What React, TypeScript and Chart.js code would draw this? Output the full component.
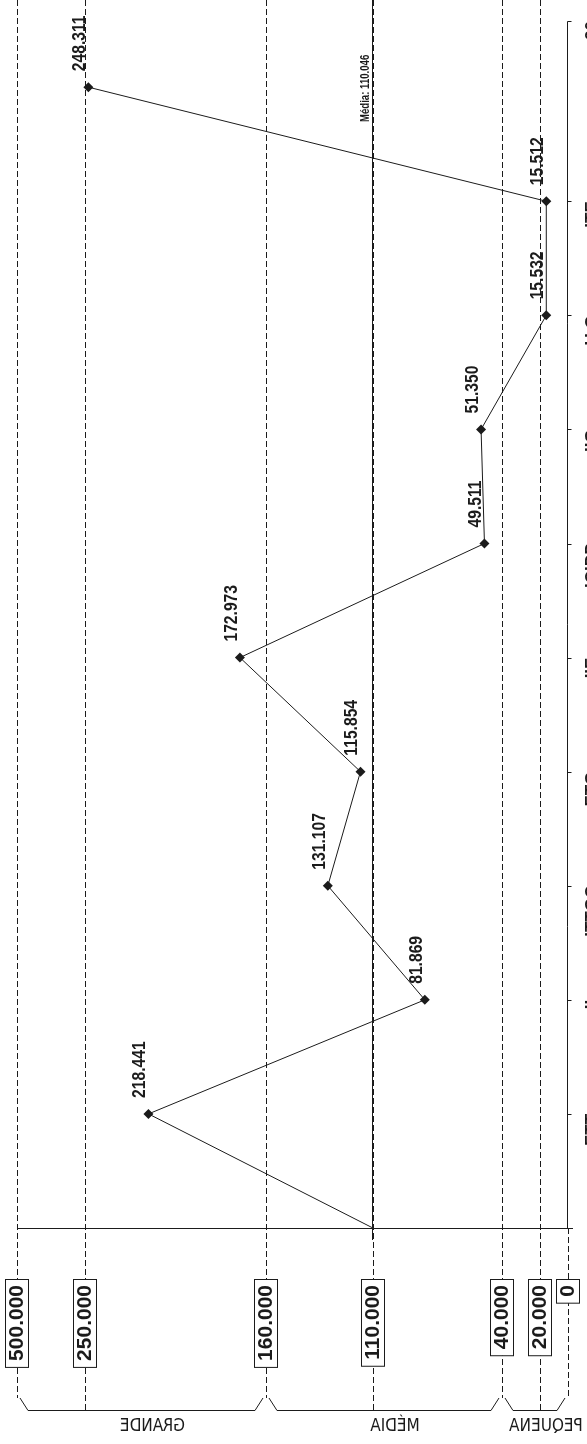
import React, { useEffect, useRef } from 'react';
import { Chart, registerables, LinearScale } from 'chart.js';

// ---------- data ----------
const CATEGORIES = ['', 'ETT', 'II', 'ITTGC', 'ETG', 'IIE', 'ICIPP', 'IIG', 'U.O', 'ITE', '20'];
const VALUES = [110046, 218441, 81869, 131107, 115854, 172973, 49511, 51350, 15532, 15512, 248311];
const MEAN = 110046;
const MEAN_TEXT = 'Média';
const VALUE_TICKS = [0, 20000, 40000, 110000, 160000, 250000, 500000];
const GROUP_NAMES = ['PEQUENA', 'MÉDIA', 'GRANDE'];
const GROUP_FROM = [0, 40000, 160000];
const GROUP_TO = [40000, 160000, 500000];
const GROUP_MID = [20000, 110000, 250000];

// ---------- scale configuration (tick value -> fraction of axis) ----------
const SCALE_FRACTIONS = [0, 0.0508, 0.1198, 0.3539, 0.5481, 0.8766, 1];

const INK = '#1b1b1b';
const SANS = "'Liberation Sans', Arial, Helvetica, sans-serif";
const NARROW = "'Liberation Sans Narrow', 'Arial Narrow', 'DejaVu Sans Condensed', 'Liberation Sans', Arial, sans-serif";

const fmt = (n: number) => String(Math.round(n)).replace(/\B(?=(\d{3})+(?!\d))/g, '.');

class PiecewiseScale extends LinearScale {
  static id = 'piecewise';
  static defaults = LinearScale.defaults;
  toFrac(v: number) {
    const k = VALUE_TICKS;
    const f = SCALE_FRACTIONS;
    if (v <= k[0]) return f[0];
    for (let i = 1; i < k.length; i++) {
      if (v <= k[i]) return f[i - 1] + ((v - k[i - 1]) / (k[i] - k[i - 1])) * (f[i] - f[i - 1]);
    }
    return f[f.length - 1];
  }
  fromFrac(d: number) {
    const k = VALUE_TICKS;
    const f = SCALE_FRACTIONS;
    for (let i = 1; i < f.length; i++) {
      if (d <= f[i]) return k[i - 1] + ((d - f[i - 1]) / (f[i] - f[i - 1])) * (k[i] - k[i - 1]);
    }
    return k[k.length - 1];
  }
  buildTicks() {
    return VALUE_TICKS.map((v) => ({ value: v }));
  }
  getPixelForValue(value: number) {
    return this.getPixelForDecimal(this.toFrac(value));
  }
  getValueForPixel(pixel: number) {
    return this.fromFrac(this.getDecimalForPixel(pixel));
  }
}

Chart.register(...registerables, PiecewiseScale as any);

const overlay = {
  id: 'overlay',
  beforeDatasetsDraw(chart: any) {
    const { ctx, chartArea: ca } = chart;
    const x = chart.scales.x;
    const y = chart.scales.y;
    const bracketY = ca.bottom + 182;
    const endY = ca.bottom + 170;
    ctx.save();
    ctx.strokeStyle = INK;
    ctx.lineWidth = 1;
    // dashed value grid lines
    ctx.setLineDash([6, 3]);
    VALUE_TICKS.forEach((v) => {
      const px = Math.round(x.getPixelForValue(v)) + 0.5;
      const top = v === 0 ? ca.bottom : 0;
      const bottom = GROUP_MID.includes(v) ? bracketY : endY;
      ctx.beginPath();
      ctx.moveTo(px, top);
      ctx.lineTo(px, bottom);
      ctx.stroke();
    });
    ctx.setLineDash([]);
    // value baseline
    ctx.beginPath();
    ctx.moveTo(ca.left, Math.round(ca.bottom) + 0.5);
    ctx.lineTo(ca.right + 5, Math.round(ca.bottom) + 0.5);
    ctx.stroke();
    // category axis
    const ax = Math.round(ca.right) - 0.5;
    ctx.beginPath();
    ctx.moveTo(ax + 4, Math.round(ca.top) + 0.5);
    ctx.lineTo(ax, Math.round(ca.top) + 0.5);
    ctx.lineTo(ax, ca.bottom);
    ctx.stroke();
    for (let i = 1; i < CATEGORIES.length - 1; i++) {
      const py = Math.round(y.getPixelForValue(i)) + 0.5;
      ctx.beginPath();
      ctx.moveTo(ax, py);
      ctx.lineTo(ax + 4, py);
      ctx.stroke();
    }
    // mean line
    const mx = Math.round(x.getPixelForValue(MEAN)) - 0.5;
    ctx.beginPath();
    ctx.moveTo(mx, 0);
    ctx.lineTo(mx, ca.bottom + 12);
    ctx.stroke();
    ctx.restore();
  },
  afterDatasetsDraw(chart: any) {
    const { ctx, chartArea: ca } = chart;
    const x = chart.scales.x;
    const y = chart.scales.y;
    const meta = chart.getDatasetMeta(0);
    ctx.save();
    ctx.fillStyle = INK;
    ctx.strokeStyle = INK;
    ctx.lineWidth = 1;

    // data labels (condensed bold)
    ctx.font = `bold 18px ${SANS}`;
    ctx.textAlign = 'left';
    ctx.textBaseline = 'alphabetic';
    meta.data.forEach((pt: any, i: number) => {
      if (i === 0) return;
      ctx.save();
      ctx.translate(pt.x - 3, pt.y - 16);
      ctx.rotate(-Math.PI / 2);
      ctx.scale(0.87, 1);
      ctx.fillText(fmt(VALUES[i]), 0, 0);
      ctx.restore();
    });

    // mean label
    const mx = Math.round(x.getPixelForValue(MEAN)) - 0.5;
    ctx.font = `bold 12px ${SANS}`;
    ctx.save();
    ctx.translate(mx - 4, ca.top + 101);
    ctx.rotate(-Math.PI / 2);
    ctx.scale(0.8, 1);
    ctx.fillText(`${MEAN_TEXT}: ${fmt(MEAN)}`, 0, 0);
    ctx.restore();

    // tick boxes
    ctx.font = `bold 21px ${SANS}`;
    const boxTop = ca.bottom + 51;
    VALUE_TICKS.forEach((v) => {
      const px = Math.round(x.getPixelForValue(v));
      const label = fmt(v);
      const w = ctx.measureText(label).width;
      const len = w + 12;
      ctx.fillStyle = '#ffffff';
      ctx.fillRect(px - 11.5, boxTop + 0.5, 23, len);
      ctx.strokeRect(px - 11.5, boxTop + 0.5, 23, len);
      ctx.fillStyle = INK;
      ctx.save();
      ctx.translate(px + 0.5, boxTop + 6);
      ctx.rotate(-Math.PI / 2);
      ctx.textAlign = 'right';
      ctx.textBaseline = 'middle';
      ctx.fillText(label, 0, 0);
      ctx.restore();
    });

    // group brackets and names (mirrored, as in the source)
    const bracketY = Math.round(ca.bottom + 182) + 0.5;
    const endY = ca.bottom + 170;
    ctx.font = `17px ${NARROW}`;
    GROUP_NAMES.forEach((name, gi) => {
      const pl = x.getPixelForValue(GROUP_TO[gi]) + 3;
      const pr = x.getPixelForValue(GROUP_FROM[gi]) - 3;
      ctx.beginPath();
      ctx.moveTo(pl, endY);
      ctx.lineTo(pl + 8, bracketY);
      ctx.lineTo(pr - 8, bracketY);
      ctx.lineTo(pr, endY);
      ctx.stroke();
      const cx = (pl + pr) / 2 + 11;
      ctx.save();
      ctx.translate(cx, ca.bottom + 190);
      ctx.scale(-1, 1);
      ctx.textAlign = 'center';
      ctx.textBaseline = 'top';
      ctx.fillText(name, 0, 0);
      ctx.restore();
    });

    // category labels (mostly outside the picture)
    ctx.font = `bold 17px ${SANS}`;
    for (let i = 1; i < CATEGORIES.length; i++) {
      const py = i === CATEGORIES.length - 1 ? ca.top : y.getPixelForValue(i);
      ctx.save();
      ctx.translate(ca.right + 16, py);
      ctx.rotate(-Math.PI / 2);
      ctx.textAlign = 'right';
      ctx.textBaseline = 'top';
      ctx.fillText(CATEGORIES[i], 0, 0);
      ctx.restore();
    }
    ctx.restore();
  },
};

export default function App() {
  const ref = useRef<HTMLCanvasElement | null>(null);
  useEffect(() => {
    document.body.style.margin = '0';
    const canvas = ref.current;
    if (!canvas) return;
    const chart = new Chart(canvas, {
      type: 'line',
      data: {
        labels: CATEGORIES,
        datasets: [
          {
            data: VALUES.map((v, i) => ({ x: v, y: i })),
            borderColor: INK,
            borderWidth: 1,
            backgroundColor: INK,
            pointBackgroundColor: INK,
            pointBorderColor: INK,
            pointStyle: 'rectRot',
            pointRadius: VALUES.map((_, i) => (i === 0 ? 0 : 5)),
            pointBorderWidth: 0,
            tension: 0,
            fill: false,
            clip: false as any,
          },
        ],
      },
      options: {
        indexAxis: 'y',
        responsive: false,
        maintainAspectRatio: false,
        animation: false,
        events: [],
        layout: { padding: { left: 17, right: 19, top: 21, bottom: 216 } },
        plugins: { legend: { display: false }, tooltip: { enabled: false } },
        scales: {
          x: { type: 'piecewise' as any, min: 0, max: 500000, reverse: true, display: false },
          y: { type: 'linear', min: 0, max: 10.58, display: false },
        },
      } as any,
      plugins: [overlay],
    });
    return () => chart.destroy();
  }, []);
  return (
    <div style={{ position: 'absolute', left: 0, top: 0, width: 587, height: 1444, background: '#fff' }}>
      <canvas ref={ref} width={587} height={1444} style={{ display: 'block' }} />
    </div>
  );
}
